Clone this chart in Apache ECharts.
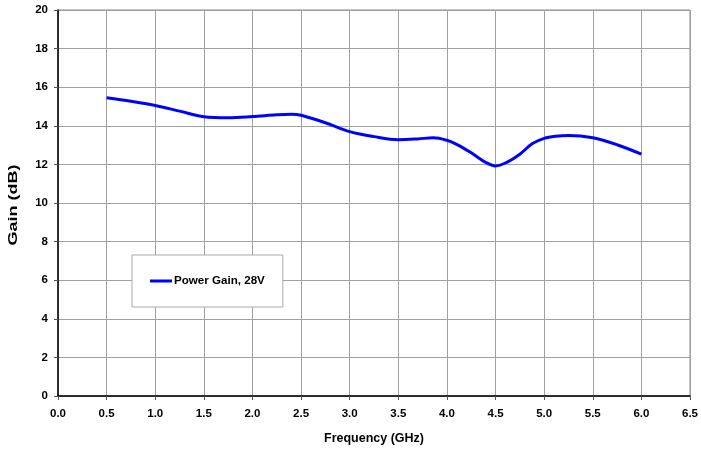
<!DOCTYPE html>
<html><head><meta charset="utf-8">
<script src="https://cdn.jsdelivr.net/npm/echarts@6/dist/echarts.min.js"></script>
<style>html,body{margin:0;padding:0;background:#fff}#c{width:701px;height:450px}</style>
</head><body><div id="c"></div>
<script>
var freqGHz = [0.5, 0.75, 1.0, 1.25, 1.5, 1.75, 2.0, 2.25, 2.4, 2.5, 2.75, 3.0, 3.25, 3.5, 3.7, 3.86, 4.0, 4.1, 4.25, 4.4, 4.5, 4.62, 4.75, 4.88, 5.0, 5.12, 5.25, 5.5, 5.75, 6.0];
var gainDb  = [15.45, 15.27, 15.05, 14.76, 14.47, 14.42, 14.48, 14.57, 14.6, 14.55, 14.16, 13.7, 13.44, 13.28, 13.32, 13.38, 13.25, 13.04, 12.6, 12.1, 11.92, 12.12, 12.53, 13.08, 13.35, 13.46, 13.5, 13.38, 13.02, 12.53];
var xTicks = ['0.0','0.5','1.0','1.5','2.0','2.5','3.0','3.5','4.0','4.5','5.0','5.5','6.0','6.5'];
var seriesName = 'Power Gain, 28V';
var xTitle = 'Frequency (GHz)';
var yTitle = 'Gain (dB)';

var font = 'Liberation Sans, Arial, sans-serif';
var chart = echarts.init(document.getElementById('c'));
chart.setOption({
  animation: false,
  grid: {left: 58, right: 10, top: 10, bottom: 52, show: true, borderColor: '#888', borderWidth: 1},
  legend: {
    left: 132, top: 255,
    padding: [20, 18, 20, 18],
    borderColor: '#aaa', borderWidth: 1, backgroundColor: '#fff',
    itemWidth: 22, itemHeight: 3, itemGap: 2,
    icon: 'rect',
    textStyle: {fontFamily: font, fontWeight: 'bold', fontSize: 11.6, color: '#000', padding: [0,0,0,-3]},
    data: [seriesName]
  },
  graphic: [{
    type: 'text', x: 14, y: 205, rotation: Math.PI / 2, scaleX: 1.44, scaleY: 1,
    style: {text: yTitle, fontFamily: font, fontWeight: 'bold', fontSize: 12.5, fill: '#000',
      align: 'center', verticalAlign: 'middle'}
  }],
  xAxis: {
    type: 'value', min: 0, max: 6.5, interval: 0.5,
    name: xTitle, nameLocation: 'middle', nameGap: 36,
    nameTextStyle: {fontFamily: font, fontWeight: 'bold', fontSize: 12.5, color: '#000'},
    axisLine: {lineStyle: {color: '#000', width: 1.5}},
    axisTick: {show: true, length: 4, lineStyle: {color: '#555'}},
    axisLabel: {fontFamily: font, fontWeight: 'bold', fontSize: 11.5, color: '#000', margin: 12,
      formatter: function(v){ return xTicks[Math.round(v/0.5)]; }},
    splitLine: {lineStyle: {color: '#a0a0a0', width: 1}}
  },
  yAxis: {
    type: 'value', min: 0, max: 20, interval: 2,
    axisLine: {show: true, lineStyle: {color: '#000', width: 1.5}},
    axisTick: {show: true, length: 4, lineStyle: {color: '#555'}},
    axisLabel: {fontFamily: font, fontWeight: 'bold', fontSize: 11.5, color: '#000', margin: 10},
    splitLine: {lineStyle: {color: '#a0a0a0', width: 1}}
  },
  series: [{
    name: seriesName, type: 'line', smooth: 0.35, showSymbol: false,
    lineStyle: {color: '#0000ff', width: 3},
    itemStyle: {color: '#0000ff'},
    data: freqGHz.map(function(f, i){ return [f, gainDb[i]]; })
  }]
});
</script></body></html>
